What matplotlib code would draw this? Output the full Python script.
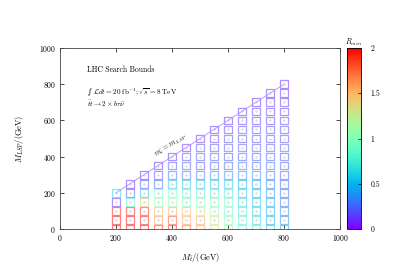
import numpy as np
import matplotlib
matplotlib.use("Agg")
import matplotlib.pyplot as plt

plt.rcParams['font.family'] = ['cmr10', 'DejaVu Serif']
plt.rcParams['mathtext.fontset'] = 'cm'
plt.rcParams['axes.formatter.use_mathtext'] = True

# stop mass columns (GeV)
m_stop = [200, 250, 300, 350, 400, 450, 500, 550, 600, 650, 700, 750, 800]
lsp_step = 50
# R_min values per column, LSP mass from 0 upward in steps of 50 GeV
r_min = [
    [2.0, 2.0, 1.95, 0.1, 0.6],
    [2.0, 2.0, 1.95, 0.8, 0.22, 0.08],
    [2.0, 1.95, 1.9, 1.4, 0.55, 0.22, 0.08],
    [1.9, 1.6, 1.5, 1.05, 1.0, 0.28, 0.18, 0.08],
    [1.9, 1.8, 1.55, 1.05, 0.95, 0.6, 0.28, 0.22, 0.08],
    [1.75, 1.55, 1.5, 0.95, 0.8, 0.6, 0.28, 0.22, 0.18, 0.08],
    [1.6, 1.55, 1.3, 1.05, 0.8, 0.6, 0.28, 0.22, 0.22, 0.18, 0.08],
    [1.3, 1.3, 1.1, 1.0, 0.8, 0.6, 0.35, 0.22, 0.22, 0.18, 0.14, 0.08],
    [1.05, 1.0, 0.9, 0.9, 0.75, 0.6, 0.35, 0.28, 0.22, 0.22, 0.18, 0.14, 0.08],
    [0.8, 0.8, 0.75, 0.65, 0.6, 0.5, 0.35, 0.28, 0.22, 0.22, 0.18, 0.18, 0.14, 0.08],
    [0.7, 0.65, 0.6, 0.55, 0.5, 0.45, 0.35, 0.28, 0.22, 0.22, 0.18, 0.18, 0.14, 0.14, 0.08],
    [0.55, 0.5, 0.5, 0.45, 0.4, 0.35, 0.28, 0.28, 0.22, 0.22, 0.18, 0.18, 0.14, 0.14, 0.14, 0.08],
    [0.45, 0.4, 0.35, 0.3, 0.28, 0.28, 0.22, 0.22, 0.22, 0.22, 0.18, 0.18, 0.18, 0.14, 0.14, 0.14, 0.08],
]
x_ticks = [0, 200, 400, 600, 800, 1000]
y_ticks = [0, 200, 400, 600, 800, 1000]
cbar_ticks = [0, 0.5, 1, 1.5, 2]
cbar_ticklabels = ["0", "0.5", "1", "1.5", "2"]

xs, ys, vs = [], [], []
for mx, col in zip(m_stop, r_min):
    for i, v in enumerate(col):
        xs.append(mx)
        ys.append(i * lsp_step)
        vs.append(v)

fig = plt.figure(figsize=(3.99, 2.79), dpi=100)
ax = fig.add_axes([60/399, 50/279, 280/399, 181/279])
cax = fig.add_axes([347/399, 50/279, 14/399, 181/279])

cmap = plt.get_cmap('rainbow')
norm = matplotlib.colors.Normalize(vmin=0, vmax=2)
sc = ax.scatter(xs, ys, c=vs, cmap=cmap, norm=norm, s=0, zorder=2)
ax.scatter(xs, ys, marker='s', s=30, facecolors='none',
           edgecolors=cmap(norm(np.array(vs))), linewidths=0.9, alpha=0.5, zorder=3)
ax.scatter(xs, ys, marker='.', s=0.3, color='#aaaaaa', zorder=4)

ax.plot([200, 800], [200, 800], color='#9a9aff', lw=0.6, zorder=5)
ax.text(398, 458, r'$m_{\tilde{t}}=m_{LSP}$', rotation=33, fontsize=5.5,
        ha='center', va='center', color='#222222')

ax.text(96, 880, 'LHC Search Bounds', fontsize=5.5, ha='left', va='center')
ax.text(96, 755, '\u222b ' + r'$\mathcal{L}dt=20\ \mathrm{fb}^{-1};\sqrt{s}=8\ \mathrm{TeV}$',
        fontsize=5.2, ha='left', va='center', family=['DejaVu Serif'])
ax.text(96, 690, r'$\bar{t}t\rightarrow 2\times b\tau\bar{\nu}$',
        fontsize=5.2, ha='left', va='center')

ax.set_xlim(0, 1000)
ax.set_ylim(0, 1000)
ax.set_xticks(x_ticks)
ax.set_yticks(y_ticks)
ax.tick_params(direction='in', length=3, width=0.5, labelsize=5.5,
               top=True, right=True, pad=3)
for sp in ax.spines.values():
    sp.set_linewidth(0.6)
    sp.set_color('#444444')
ax.set_xlabel(r'$M_{\tilde{t}}/(\mathrm{GeV})$', fontsize=6, labelpad=6)
ax.set_ylabel(r'$M_{LSP}/(\mathrm{GeV})$', fontsize=6, labelpad=9)

cb = fig.colorbar(sc, cax=cax, ticks=cbar_ticks)
cb.set_ticklabels(cbar_ticklabels)
cb.ax.tick_params(direction='in', length=2, width=0.5, labelsize=5.5, pad=7)
cb.outline.set_linewidth(0.6)
cax.set_title(r'$R_{min}$', fontsize=5.5, pad=2)

fig.savefig('out.png', dpi=100)
